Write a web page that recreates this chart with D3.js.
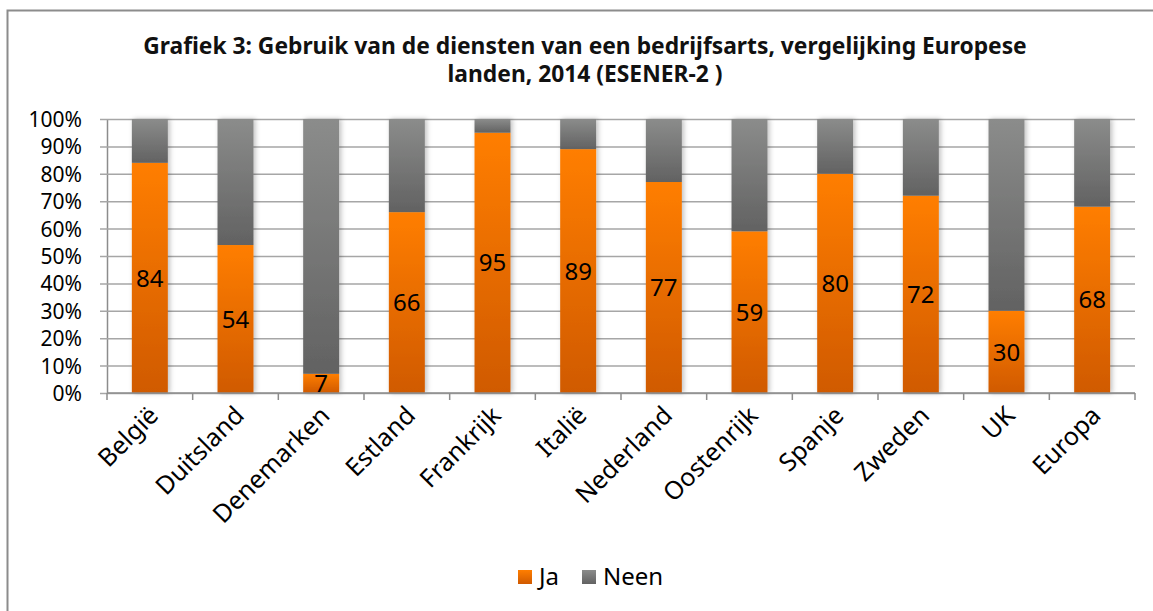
<!DOCTYPE html>
<html>
<head>
<meta charset="utf-8">
<script src="https://cdn.jsdelivr.net/npm/d3@7"></script>
<style>
  body { margin: 0; background: #fff; }
  svg { display: block; font-family: "Noto Sans", "DejaVu Sans", sans-serif; }
</style>
</head>
<body>
<script>
const countries = ['België', 'Duitsland', 'Denemarken', 'Estland', 'Frankrijk', 'Italië', 'Nederland', 'Oostenrijk', 'Spanje', 'Zweden', 'UK', 'Europa']
const ja = [84, 54, 7, 66, 95, 89, 77, 59, 80, 72, 30, 68]
const neen = [16, 46, 93, 34, 5, 11, 23, 41, 20, 28, 70, 32]
const yTicks = [0, 10, 20, 30, 40, 50, 60, 70, 80, 90, 100]
const titleLines = ['Grafiek 3: Gebruik van de diensten van een bedrijfsarts, vergelijking Europese', 'landen, 2014 (ESENER-2 )']
const seriesNames = ['Ja', 'Neen']

const W = 1153, H = 611
const margin = {left: 107, right: 18, top: 119, bottom: 218}

const svg = d3.select('body').append('svg')
  .attr('width', W)
  .attr('height', H)

// gradients + soft shadow
const defs = svg.append('defs')
function grad(id, top, bottom) {
  const g = defs.append('linearGradient').attr('id', id)
    .attr('x1', 0).attr('y1', 0).attr('x2', 0).attr('y2', 1)
  g.append('stop').attr('offset', '0%').attr('stop-color', top)
  g.append('stop').attr('offset', '100%').attr('stop-color', bottom)
}
grad('gJa', '#ff7e00', '#d05a00')
grad('gNeen', '#8b8c8b', '#626262')
defs.append('filter').attr('id', 'shadow')
  .attr('x', '-30%').attr('y', '-5%').attr('width', '160%').attr('height', '110%')
  .append('feDropShadow')
  .attr('dx', 2).attr('dy', 0).attr('stdDeviation', 2.5)
  .attr('flood-color', '#000').attr('flood-opacity', 0.25)

// outer frame (right and bottom edges fall outside the picture)
svg.append('rect')
  .attr('x', 7.5).attr('y', 10.5)
  .attr('width', W + 20).attr('height', H + 20)
  .attr('fill', 'none')
  .attr('stroke', '#8c8c8c')
  .attr('stroke-width', 2)

// title, fit to the width of the original
const title = svg.append('g')
  .attr('font-weight', 'bold')
  .attr('fill', '#111')
  .attr('text-anchor', 'middle')
const tl = title.selectAll('text')
  .data(titleLines)
  .join('text')
  .attr('x', 585)
  .attr('y', (d, i) => 54 + i * 28)
  .attr('font-size', 18)
  .text(d => d)
const w0 = tl.node().getComputedTextLength()
tl.attr('font-size', 18 * 884 / w0)

const x = d3.scaleBand()
  .domain(countries)
  .range([margin.left, W - margin.right])
  .paddingInner(0.58)
  .paddingOuter(0.29)

const y = d3.scaleLinear()
  .domain([0, 100])
  .range([H - margin.bottom, margin.top])

// y axis with gridlines
const yAxis = svg.append('g')
  .attr('transform', `translate(${margin.left},0)`)
  .call(d3.axisLeft(y)
    .tickValues(yTicks)
    .tickFormat(d => d + '%')
    .tickSizeInner(-(W - margin.right - margin.left))
    .tickSizeOuter(0)
    .tickPadding(25))
yAxis.select('.domain').attr('stroke', '#8c8c8c').attr('stroke-width', 1.5)
yAxis.selectAll('.tick line')
  .attr('x1', -7)
  .attr('stroke', '#a6a6a6')
  .attr('stroke-width', 1.5)
yAxis.selectAll('.tick text')
  .attr('font-size', 21)
  .attr('fill', '#000')
  .attr('font-family', '"Noto Sans", sans-serif')
  .attr('dy', '0.36em')

// bars
const step = x.step()
const stackData = countries.map((c, i) => ({country: c, ja: ja[i], neen: neen[i]}))
const stack = d3.stack().keys(['ja', 'neen'])(stackData)

const bars = svg.append('g').attr('filter', 'url(#shadow)')
bars.selectAll('g')
  .data(stack)
  .join('g')
  .attr('fill', d => d.key === 'ja' ? 'url(#gJa)' : 'url(#gNeen)')
  .selectAll('rect')
  .data(d => d)
  .join('rect')
  .attr('x', d => x(d.data.country))
  .attr('width', x.bandwidth())
  .attr('y', d => y(d[1]))
  .attr('height', d => y(d[0]) - y(d[1]))

// data labels
svg.append('g')
  .selectAll('text')
  .data(stackData)
  .join('text')
  .attr('x', d => x(d.country) + x.bandwidth() / 2)
  .attr('y', d => (y(0) + y(d.ja)) / 2)
  .attr('dy', '0.36em')
  .attr('text-anchor', 'middle')
  .attr('font-size', 24)
  .attr('fill', '#000')
  .text(d => d.ja)

// x axis
const xAxis = svg.append('g')
  .attr('transform', `translate(0,${y(0)})`)
  .call(d3.axisBottom(x).tickSize(0).tickSizeOuter(0).tickFormat(''))
xAxis.select('.domain').attr('stroke', '#8c8c8c').attr('stroke-width', 1.5)
  .attr('d', `M${margin.left},0H${W - margin.right}`)
xAxis.selectAll('.sep')
  .data(d3.range(countries.length + 1))
  .join('line')
  .attr('class', 'sep')
  .attr('x1', i => margin.left + i * step)
  .attr('x2', i => margin.left + i * step)
  .attr('y1', 0).attr('y2', 7)
  .attr('stroke', '#8c8c8c')
  .attr('stroke-width', 1.5)

svg.append('g')
  .selectAll('text')
  .data(countries)
  .join('text')
  .attr('transform', d => `translate(${x(d) + x.bandwidth() / 2 + 10},${y(0) + 24}) rotate(-45)`)
  .attr('text-anchor', 'end')
  .attr('font-size', 25)
  .attr('fill', '#000')
  .text(d => d)

// legend
const legend = svg.append('g').attr('transform', 'translate(518,570)')
const li = legend.selectAll('g')
  .data(seriesNames)
  .join('g')
  .attr('transform', (d, i) => `translate(${i * 64},0)`)
li.append('rect')
  .attr('width', 14).attr('height', 14)
  .attr('fill', (d, i) => i === 0 ? 'url(#gJa)' : 'url(#gNeen)')
li.append('text')
  .attr('x', 21).attr('y', 15)
  .attr('font-size', 24)
  .attr('fill', '#000')
  .text(d => d)
</script>
</body>
</html>
